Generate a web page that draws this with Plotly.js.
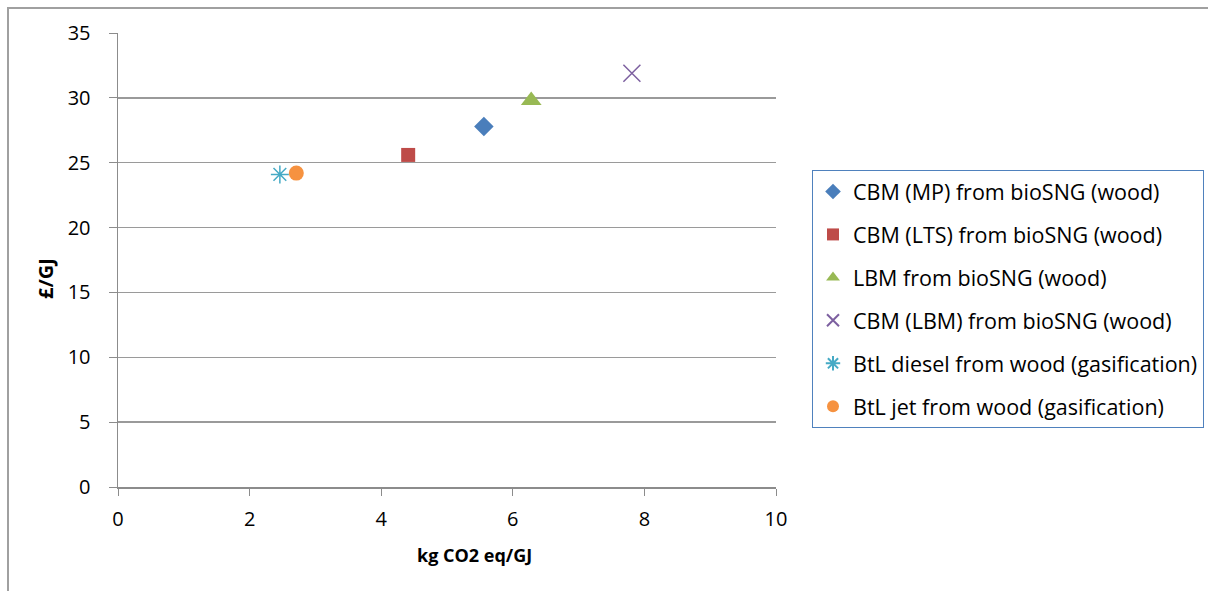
<!DOCTYPE html>
<html>
<head>
<meta charset="utf-8">
<script src="https://cdn.plot.ly/plotly-3.0.1.min.js"></script>
<style>
html, body { margin: 0; padding: 0; background: #fff; }
#wrap { position: relative; width: 1208px; height: 591px; }
#frame { position: absolute; left: 7px; top: 7px; width: 1201px; height: 584px; border-left: 2px solid #a0a0a0; border-top: 2px solid #a0a0a0; box-sizing: border-box; pointer-events: none; z-index: 5; }
#chart { position: absolute; left: 0; top: 0; width: 1208px; height: 591px; }
</style>
</head>
<body>
<div id="wrap">
<div id="chart"></div>
<div id="frame"></div>
</div>
<script>
const seriesNames = [
  "CBM (MP) from bioSNG (wood)",
  "CBM (LTS) from bioSNG (wood)",
  "LBM from bioSNG (wood)",
  "CBM (LBM) from bioSNG (wood)",
  "BtL diesel from wood (gasification)",
  "BtL jet from wood (gasification)"
];
const emissions = [5.56, 4.41, 6.28, 7.81, 2.46, 2.71];   // kg CO2 eq/GJ
const costs = [27.8, 25.6, 29.8, 31.9, 24.1, 24.2];        // £/GJ
const xTicks = [0, 2, 4, 6, 8, 10];
const yTicks = [0, 5, 10, 15, 20, 25, 30, 35];
const xTitle = "kg CO2 eq/GJ";
const yTitle = "£/GJ";

const colors = ["#4A7EBB", "#BE4B48", "#98B954", "#7D60A0", "#46AAC5", "#F69240"];
const symbols = ["diamond", "square", "triangle-up", "x-thin-open", "asterisk-open", "circle"];
const sizes = [15, 14, 18, 17, 15, 15];

const traces = seriesNames.map((name, i) => ({
  type: "scatter",
  mode: "markers",
  name: name,
  legendgroup: "g" + i,
  x: [emissions[i]],
  y: [costs[i]],
  marker: {
    symbol: symbols[i],
    size: sizes[i],
    color: colors[i],
    line: { color: colors[i], width: (symbols[i].includes("open") ? 1.5 : 0) }
  }
}));

const FF = "Open Sans, Noto Sans, sans-serif";
const axisFont = { family: FF, size: 20, color: "#000" };

// plot-area geometry (pixels)
const W = 1208, H = 591, L = 118, R = 0, T = 33, B = 104;
const plotW = W - L - R;
const xEnd = 776;
const domEnd = (xEnd - L) / plotW;

const layout = {
  width: W,
  height: H,
  margin: { l: L, r: R, t: T, b: B, autoexpand: false },
  paper_bgcolor: "#fff",
  plot_bgcolor: "#fff",
  showlegend: true,
  xaxis: {
    domain: [0, domEnd],
    range: [0, 10],
    tickvals: xTicks,
    ticktext: xTicks.map(String),
    showgrid: false,
    zeroline: false,
    showline: true,
    linecolor: "#8c8c8c",
    linewidth: 1.5,
    ticks: "outside",
    ticklen: 7,
    tickcolor: "#8c8c8c",
    ticklabelstandoff: 6,
    tickfont: axisFont
  },
  yaxis: {
    range: [0, 35],
    tickvals: yTicks,
    ticktext: yTicks.map(String),
    showgrid: true,
    gridcolor: "#9a9a9a",
    gridwidth: 1.5,
    zeroline: false,
    showline: true,
    linecolor: "#8c8c8c",
    linewidth: 1.5,
    ticks: "outside",
    ticklen: 8,
    tickcolor: "#8c8c8c",
    ticklabelstandoff: 14,
    tickfont: axisFont
  },
  annotations: [
    {
      text: "<b>" + xTitle + "</b>",
      xref: "paper", yref: "paper",
      x: (474 - L) / plotW, y: 0,
      xanchor: "center", yanchor: "middle",
      yshift: -68,
      showarrow: false,
      font: { family: FF, size: 18, color: "#000" }
    },
    {
      text: "<b>" + yTitle + "</b>",
      xref: "paper", yref: "paper",
      x: 0, y: (487 - 279) / 454,
      xanchor: "center", yanchor: "middle",
      xshift: -73,
      textangle: -90,
      showarrow: false,
      font: { family: FF, size: 20, color: "#000" }
    }
  ],
  legend: {
    x: (812 - L) / plotW,
    xanchor: "left",
    y: (487 - 170) / 454,
    yanchor: "top",
    bgcolor: "#fff",
    bordercolor: "#4F81BD",
    borderwidth: 1,
    traceorder: "grouped",
    tracegroupgap: 12,
    itemsizing: "constant",
    font: { family: FF, size: 21.5, color: "#000" }
  }
};

Plotly.newPlot("chart", traces, layout, { displayModeBar: false, staticPlot: true });
</script>
</body>
</html>
